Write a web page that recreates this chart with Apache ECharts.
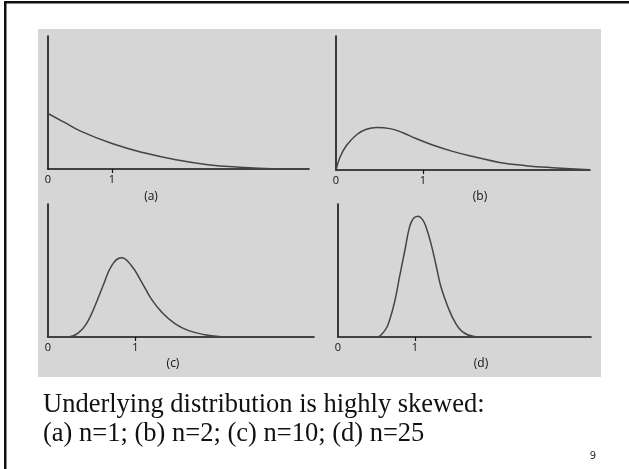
<!DOCTYPE html>
<html>
<head>
<meta charset="utf-8">
<script src="https://cdn.jsdelivr.net/npm/echarts@6/dist/echarts.min.js"></script>
<style>
  html, body { margin: 0; padding: 0; background: #fff; }
  #chart { width: 629px; height: 469px; }
</style>
</head>
<body>
<div id="chart"></div>
<script>
// (a) n=1
const xA = [0, 0.25, 0.5, 1, 1.5, 2, 2.5, 3, 3.5, 4.08];
const yA = [0.96, 0.81, 0.66, 0.44, 0.28, 0.16, 0.075, 0.03, 0.005, 0];
// (b) n=2
const xB = [0, 0.046, 0.12, 0.24, 0.35, 0.47, 0.62, 0.77, 0.92, 1.11, 1.34, 1.61, 1.88, 2.18, 2.49, 2.92];
const yB = [0, 0.22, 0.42, 0.61, 0.70, 0.73, 0.71, 0.64, 0.54, 0.43, 0.32, 0.22, 0.13, 0.075, 0.04, 0.005];
// (c) n=10
const xC = [0, 0.23, 0.35, 0.44, 0.54, 0.63, 0.73, 0.84, 0.95, 1.07, 1.18, 1.30, 1.45, 1.60, 1.79, 1.98, 2.1, 3.04];
const yC = [0, 0, 0.075, 0.23, 0.55, 0.89, 1.24, 1.37, 1.24, 0.95, 0.66, 0.43, 0.23, 0.115, 0.04, 0.006, 0, 0];
// (d) n=25
const xD = [0, 0.50, 0.61, 0.67, 0.74, 0.80, 0.87, 0.93, 0.98, 1.04, 1.10, 1.15, 1.21, 1.28, 1.34, 1.43, 1.52, 1.62, 1.77, 1.9, 3.29];
const yD = [0, 0, 0.115, 0.29, 0.63, 1.04, 1.50, 1.90, 2.05, 2.09, 2.03, 1.88, 1.61, 1.21, 0.86, 0.52, 0.26, 0.09, 0.01, 0, 0];

const tickLabels = [0, 1];
const panelNames = ['(a)', '(b)', '(c)', '(d)'];
const captionLines = ['Underlying distribution is highly skewed:', '(a) n=1; (b) n=2; (c) n=10; (d) n=25'];
const pageNumber = '9';

const chart = echarts.init(document.getElementById('chart'));

const panels = [
    { x: xA, y: yA, grid: { left: 48, top: 36, width: 261, height: 133 }, xMax: 4.08, label: [151, 197] },
    { x: xB, y: yB, grid: { left: 336, top: 36, width: 254, height: 134 }, xMax: 2.92, label: [480, 197] },
    { x: xC, y: yC, grid: { left: 48, top: 204, width: 266, height: 133 }, xMax: 3.04, label: [173, 364] },
    { x: xD, y: yD, grid: { left: 338, top: 204, width: 253, height: 133 }, xMax: 3.29, label: [481, 364] }
];

const axisColor = '#111';
const labelFont = { fontFamily: 'Open Sans', fontSize: 11, color: '#111' };

const option = {
    animation: false,
    grid: panels.map((p) => p.grid),
    xAxis: panels.map((p, i) => ({
        type: 'value',
        gridIndex: i,
        min: 0,
        max: p.xMax,
        interval: 1,
        axisLine: { show: true, onZero: false, lineStyle: { color: axisColor, width: 1.6 } },
        axisTick: { show: true, customValues: [1], length: 4, lineStyle: { color: axisColor, width: 1.2 } },
        axisLabel: { show: true, customValues: tickLabels, margin: 5, ...labelFont },
        splitLine: { show: false }
    })),
    yAxis: panels.map((p, i) => ({
        type: 'value',
        gridIndex: i,
        min: 0,
        max: 2.3,
        axisLine: { show: true, lineStyle: { color: axisColor, width: 1.6 } },
        axisTick: { show: false },
        axisLabel: { show: false },
        splitLine: { show: false }
    })),
    series: panels.map((p, i) => ({
        type: 'line',
        xAxisIndex: i,
        yAxisIndex: i,
        data: p.x.map((v, k) => [v, p.y[k]]),
        smooth: 0.45,
        showSymbol: false,
        lineStyle: { color: '#444', width: 1.5 },
        z: 1
    })),
    graphic: [
        // slide frame (top and left edges only)
        { type: 'rect', shape: { x: 4, y: 1, width: 625, height: 2.5 }, style: { fill: '#111' }, z: -5 },
        { type: 'rect', shape: { x: 4, y: 1, width: 2.5, height: 468 }, style: { fill: '#111' }, z: -5 },
        // grey figure background
        { type: 'rect', shape: { x: 38, y: 29, width: 563, height: 348 }, style: { fill: '#d6d6d6' }, z: -10 },
        ...panels.map((p, i) => ({
            type: 'text',
            x: p.label[0],
            y: p.label[1],
            style: { text: panelNames[i], fill: '#111', font: '12px "Open Sans"', align: 'center', verticalAlign: 'middle' }
        })),
        ...captionLines.map((t, i) => ({
            type: 'text',
            x: 43,
            y: 405 + i * 29,
            style: { text: t, fill: '#111', font: '26.5px "Liberation Serif"', align: 'left', verticalAlign: 'middle' }
        })),
        {
            type: 'text',
            x: 593,
            y: 456,
            style: { text: pageNumber, fill: '#333', font: '10px "DejaVu Sans"', align: 'center', verticalAlign: 'middle' }
        }
    ]
};

chart.setOption(option);
</script>
</body>
</html>
